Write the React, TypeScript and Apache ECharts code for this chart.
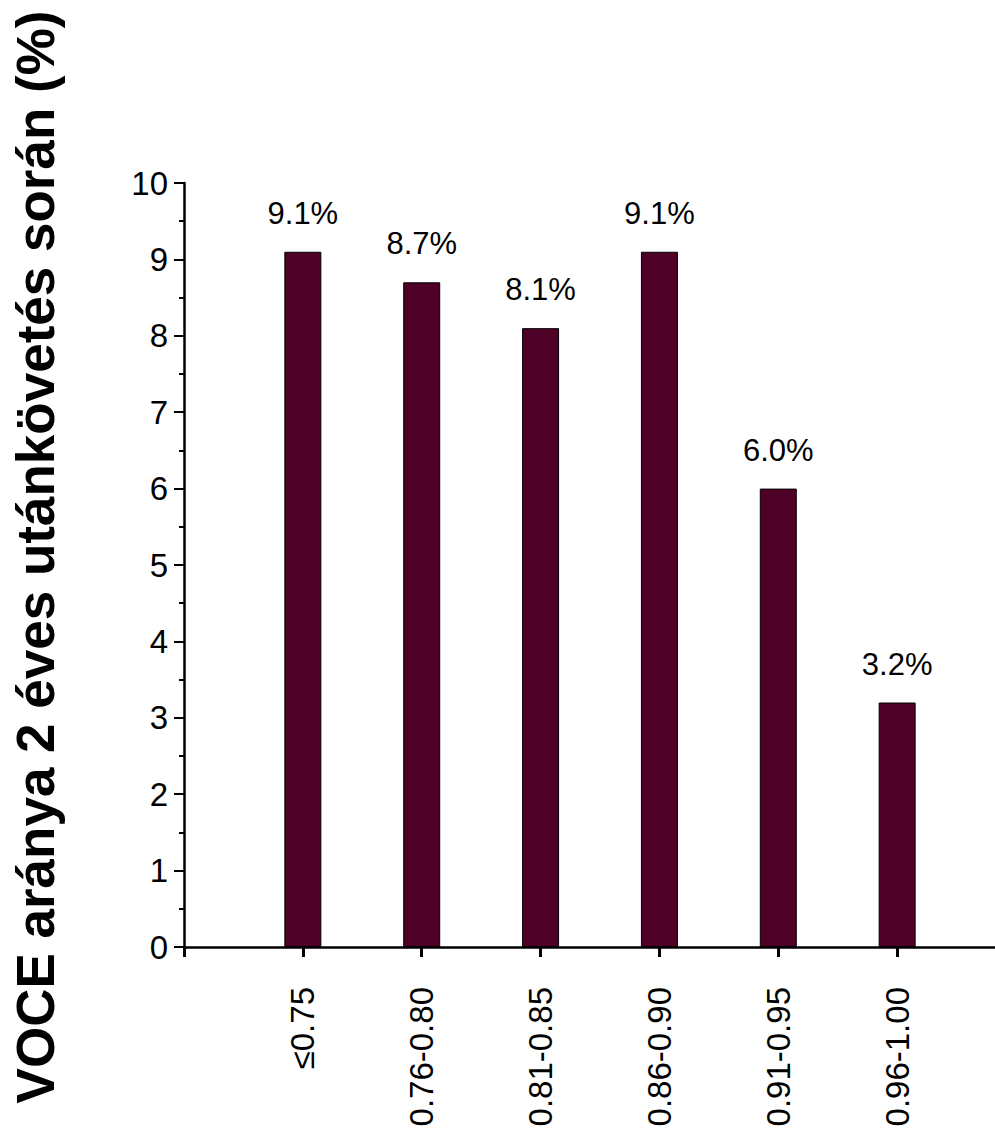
import React, { useEffect, useRef } from "react";
import * as echarts from "echarts";

const categories = ["≤0.75", "0.76-0.80", "0.81-0.85", "0.86-0.90", "0.91-0.95", "0.96-1.00"];
const values = [9.1, 8.7, 8.1, 9.1, 6.0, 3.2];
const yTicks = [0, 1, 2, 3, 4, 5, 6, 7, 8, 9, 10];
const yTitle = "VOCE aránya 2 éves utánkövetés során (%)";

export default function App() {
  const ref = useRef<HTMLDivElement>(null);
  useEffect(() => {
    document.body.style.margin = "0";
    document.body.style.overflow = "hidden";
    if (!ref.current) return;
    const chart = echarts.init(ref.current, undefined, { renderer: "svg" });
    const font = '"Liberation Sans", Arial, sans-serif';
    chart.setOption({
      animation: false,
      backgroundColor: "#ffffff",
      grid: { left: 184, right: 0, top: 183, bottom: 188, containLabel: false },
      xAxis: {
        type: "value",
        min: 0,
        max: categories.length + 1,
        interval: 1,
        splitLine: { show: false },
        axisLine: { show: true, onZero: false, lineStyle: { color: "#000", width: 2.5 } },
        axisTick: { show: true, inside: false, length: 10, lineStyle: { color: "#000", width: 3 } },
        axisLabel: {
          rotate: 90,
          margin: 40,
          fontSize: 33,
          fontFamily: font,
          color: "#000",
          showMinLabel: true,
          showMaxLabel: true,
          formatter: (v: number) => categories[v - 1] ?? "",
        },
      },
      yAxis: {
        type: "value",
        min: yTicks[0],
        max: yTicks[yTicks.length - 1],
        interval: 1,
        splitLine: { show: false },
        axisLine: { show: true, lineStyle: { color: "#000", width: 2.5 } },
        axisTick: { show: true, inside: false, length: 10, lineStyle: { color: "#000", width: 2 } },
        minorTick: { show: true, splitNumber: 2, length: 5, lineStyle: { color: "#000", width: 2 } },
        axisLabel: { margin: 16, fontSize: 33, fontFamily: font, color: "#000" },
      },
      graphic: [
        {
          type: "text",
          x: 35,
          y: 557,
          rotation: Math.PI / 2,
          style: {
            text: yTitle,
            font: 'bold 53px "Liberation Sans", Arial, sans-serif',
            fill: "#000",
            textAlign: "center",
            textVerticalAlign: "middle",
          },
        },
      ],
      series: [
        {
          type: "bar",
          barWidth: 37,
          data: values.map((v, i) => [i + 1, v]),
          itemStyle: { color: "#4f0027", borderColor: "#000", borderWidth: 1 },
          label: {
            show: true,
            position: "top",
            distance: 23,
            fontSize: 31,
            fontFamily: font,
            color: "#000",
            formatter: (p: any) => p.value[1].toFixed(1) + "%",
          },
        },
      ],
    });
    return () => chart.dispose();
  }, []);
  return <div ref={ref} style={{ width: 1016, height: 1135 }} />;
}
